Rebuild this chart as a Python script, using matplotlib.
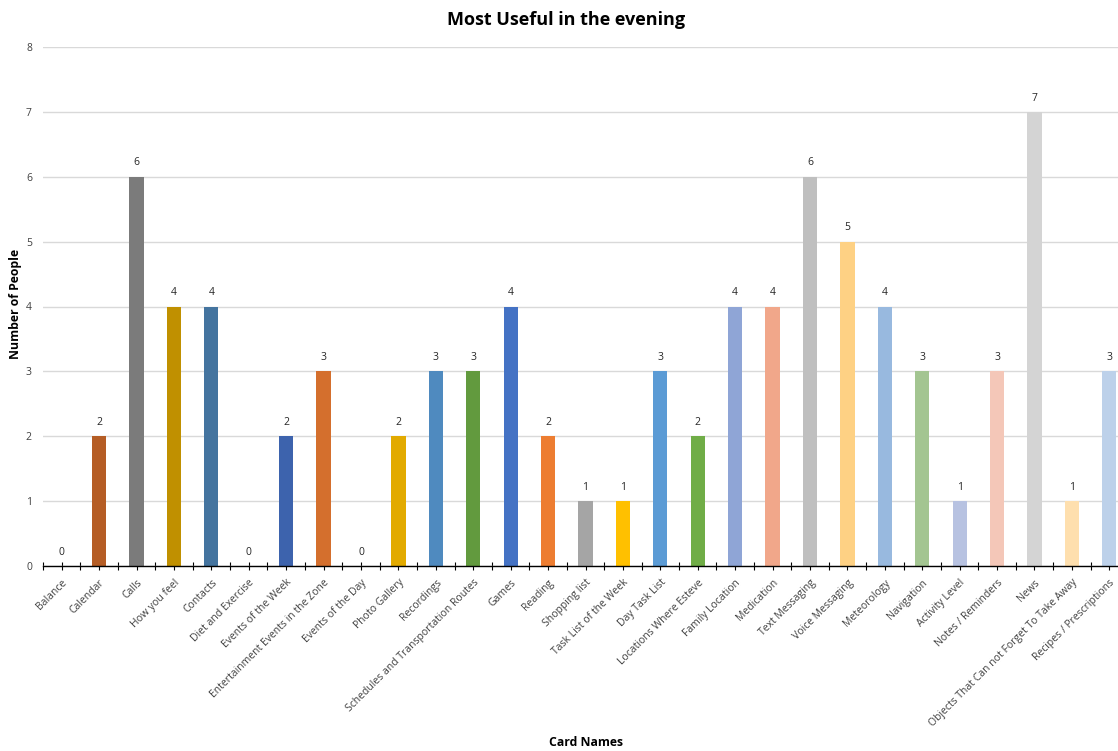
import matplotlib
matplotlib.use("Agg")
import matplotlib.pyplot as plt
import numpy as np

plt.rcParams['font.family'] = ['Open Sans', 'DejaVu Sans']

# card names and counts
cards = ["Balance", "Calendar", "Calls", "How you feel", "Contacts",
         "Diet and Exercise", "Events of the Week",
         "Entertainment Events in the Zone", "Events of the Day",
         "Photo Gallery", "Recordings", "Schedules and Transportation Routes",
         "Games", "Reading", "Shopping list", "Task List of the Week",
         "Day Task List", "Locations Where Esteve", "Family Location",
         "Medication", "Text Messaging", "Voice Messaging", "Meteorology",
         "Navigation", "Activity Level", "Notes / Reminders", "News",
         "Objects That Can not Forget To Take Away", "Recipes / Prescriptions"]
people = [0, 2, 6, 4, 4, 0, 2, 3, 0, 2, 3, 3, 4, 2, 1, 1, 3, 2, 4, 4,
          6, 5, 4, 3, 1, 3, 7, 1, 3]
colors = ["#4472C4", "#B55D25", "#7B7B7B", "#C09000", "#44749F",
          "#5E8E3A", "#3D63AD", "#D46F2D", "#8C8C8C", "#E2AA00",
          "#4F8ABF", "#629A3E", "#4472C4", "#ED7D31", "#A5A5A5",
          "#FFC000", "#5B9BD5", "#70AD47", "#8FA5D6", "#F1A78A",
          "#BFBFBF", "#FED184", "#98B9DF", "#A3C591", "#B7C2E1",
          "#F4C7B8", "#D4D4D4", "#FEDFAE", "#BDD1EA"]

W, H = 1118, 751
fig = plt.figure(figsize=(W / 100, H / 100), dpi=100)
ax = fig.add_axes([43 / W, 1 - 566 / H, 1085 / W, (566 - 47) / H])

x = np.arange(len(cards))
bars = ax.bar(x, people, width=0.38, color=colors, zorder=3)
for xi, v in zip(x, people):
    ax.annotate(str(v), (xi, v), xytext=(0, 6), textcoords='offset points',
                ha='center', va='bottom', fontsize=7.5, color='#262626')

ax.set_xlim(-0.5, len(cards) - 0.5)
ax.set_ylim(0, 8)
ax.set_yticks(range(0, 9))
ax.yaxis.grid(True, color='#D9D9D9', linewidth=1.0, zorder=0)
ax.set_axisbelow(True)
for s in ['top', 'right', 'left']:
    ax.spines[s].set_visible(False)
ax.spines['bottom'].set_color('#000000')
ax.spines['bottom'].set_linewidth(1.0)
ax.spines['bottom'].set_zorder(4)

ax.set_xticks(x)
ax.set_xticks(np.arange(-0.5, len(cards), 1.0), minor=True)
ax.set_xticklabels(cards, rotation=45, ha='right', va='top',
                   rotation_mode='anchor', fontsize=7.5, color='#404040')
ax.tick_params(axis='x', which='both', direction='inout', length=6,
               width=0.8, color='#000000', pad=5)
ax.tick_params(axis='y', length=0, labelsize=7.5, labelcolor='#404040', pad=8)

fig.text(566 / W, 1 - 20 / H, "Most Useful in the evening", ha='center',
         va='center', fontsize=13, fontweight='bold', color='#000000')
fig.text(16 / W, 1 - 304 / H, "Number of People", rotation=90, ha='center',
         va='center', fontsize=8.8, fontweight='bold', color='#000000')
fig.text(586 / W, 1 - 742 / H, "Card Names", ha='center', va='center',
         fontsize=8.8, fontweight='bold', color='#000000')

fig.savefig("out.png", dpi=100)
